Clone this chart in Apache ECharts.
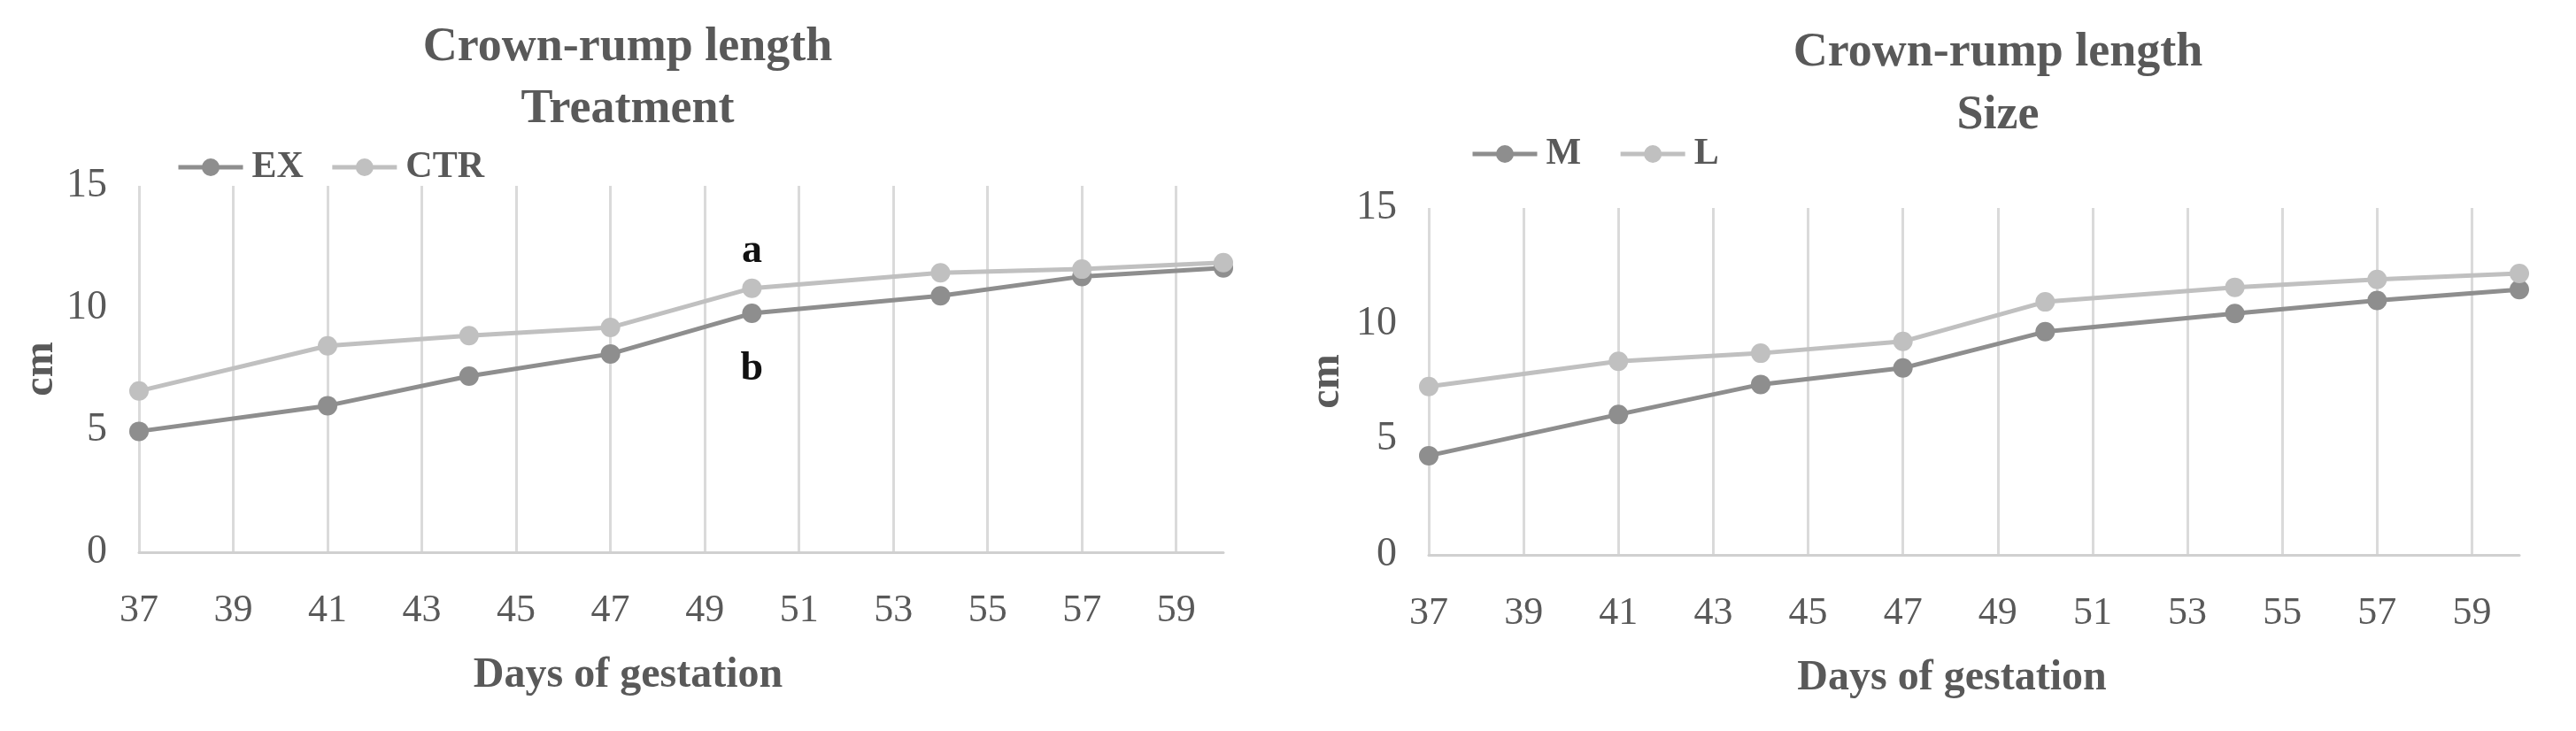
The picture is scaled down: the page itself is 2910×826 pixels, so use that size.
<!DOCTYPE html>
<html><head><meta charset="utf-8">
<script src="https://cdn.jsdelivr.net/npm/echarts@6/dist/echarts.min.js"></script>
<style>html,body{margin:0;padding:0;background:#fff}#c{width:2910px;height:826px}</style>
</head><body><div id="c"></div>
<script>
// ---- data ----
const days = [37, 41, 44, 47, 50, 54, 57, 60];
const exValues  = [4.95, 6.00, 7.21, 8.12, 9.78, 10.50, 11.29, 11.64];
const ctrValues = [6.60, 8.45, 8.87, 9.20, 10.81, 11.44, 11.59, 11.86];
const mValues   = [4.29, 6.07, 7.37, 8.08, 9.65, 10.44, 11.00, 11.47];
const lValues   = [7.28, 8.37, 8.72, 9.23, 10.94, 11.57, 11.91, 12.17];
const xMin = 37, xMax = 60, xInterval = 2;
const yMin = 0, yMax = 15, yInterval = 5;
const sigDay = 50, sigUpper = 'a', sigLower = 'b';
const titleLeft = ['Crown-rump length', 'Treatment'];
const titleRight = ['Crown-rump length', 'Size'];
const xName = 'Days of gestation', yName = 'cm';

// ---- style ----
const FONT = "'Liberation Serif', 'DejaVu Serif', serif";
const TXT = '#595959';
const DARK = '#8e8e8e', LIGHT = '#c0c0c0';

function pairs(vals, sig, pos) {
  return days.map((d, i) => {
    if (sig && d === sigDay) {
      return {
        value: [d, vals[i]],
        label: {
          show: true, formatter: sig, position: pos,
          distance: pos === 'top' ? 8 : 29,
          fontFamily: FONT, fontSize: 46, fontWeight: 'bold', color: '#111'
        }
      };
    }
    return [d, vals[i]];
  });
}

function xAxis(gridIndex, namePad, gap) {
  return {
    type: 'value', gridIndex, min: xMin, max: xMax, interval: xInterval,
    name: xName, nameLocation: 'middle', nameGap: gap,
    nameTextStyle: { fontFamily: FONT, fontSize: 48, fontWeight: 'bold', color: TXT, padding: [0, namePad, 0, 0] },
    axisLine: { show: true, lineStyle: { color: '#d0d0d0', width: 3 } },
    axisTick: { show: false },
    axisLabel: { fontFamily: FONT, fontSize: 44, color: TXT, margin: 44, showMaxLabel: false },
    splitLine: { show: true, showMinLine: true, showMaxLine: false, lineStyle: { color: '#dadada', width: 3 } }
  };
}
function yAxis(gridIndex, gap) {
  return {
    type: 'value', gridIndex, min: yMin, max: yMax, interval: yInterval,
    name: yName, nameLocation: 'middle', nameGap: gap, nameRotate: 90,
    nameTextStyle: { fontFamily: FONT, fontSize: 48, fontWeight: 'bold', color: TXT },
    axisLine: { show: false }, axisTick: { show: false },
    axisLabel: { fontFamily: FONT, fontSize: 46, color: TXT, margin: 36 },
    splitLine: { show: false }
  };
}
function line(name, vals, color, axisIdx, sig, pos) {
  return {
    name, type: 'line', xAxisIndex: axisIdx, yAxisIndex: axisIdx,
    data: pairs(vals, sig, pos), symbol: 'circle', symbolSize: 22,
    lineStyle: { color, width: 5 }, itemStyle: { color },
    label: { show: false }, animation: false
  };
}
function titleText(lines, cx, y1, y2) {
  return [
    { type: 'text', x: cx, y: y1, style: { text: lines[0], textAlign: 'center', textVerticalAlign: 'middle', font: "bold 54px " + FONT, fill: TXT } },
    { type: 'text', x: cx, y: y2, style: { text: lines[1], textAlign: 'center', textVerticalAlign: 'middle', font: "bold 54px " + FONT, fill: TXT } }
  ];
}
const legendCommon = {
  padding: 0, itemWidth: 73, itemHeight: 25,
  lineStyle: { width: 5 },
  textStyle: { fontFamily: FONT, fontSize: 42, fontWeight: 'bold', color: TXT, lineHeight: 42, padding: [0, 0, 0, 5] }
};

const chart = echarts.init(document.getElementById('c'));
chart.setOption({
  backgroundColor: '#fff',
  animation: false,
  graphic: [].concat(titleText(titleLeft, 709, 54, 124), titleText(titleRight, 2257, 60, 131)),
  legend: [
    Object.assign({ data: ['EX', 'CTR'], left: 199, top: 168, itemGap: 30 }, legendCommon),
    Object.assign({ data: ['M', 'L'], left: 1661, top: 153, itemGap: 42 }, legendCommon)
  ],
  grid: [
    { left: 157, top: 210, width: 1225, height: 414 },
    { left: 1614, top: 235, width: 1232, height: 392 }
  ],
  xAxis: [xAxis(0, 120, 116), xAxis(1, 50, 116)],
  yAxis: [yAxis(0, 86), yAxis(1, 90)],
  series: [
    line('EX', exValues, DARK, 0, sigLower, 'bottom'),
    line('CTR', ctrValues, LIGHT, 0, sigUpper, 'top'),
    line('M', mValues, DARK, 1),
    line('L', lValues, LIGHT, 1)
  ]
});
</script></body></html>
